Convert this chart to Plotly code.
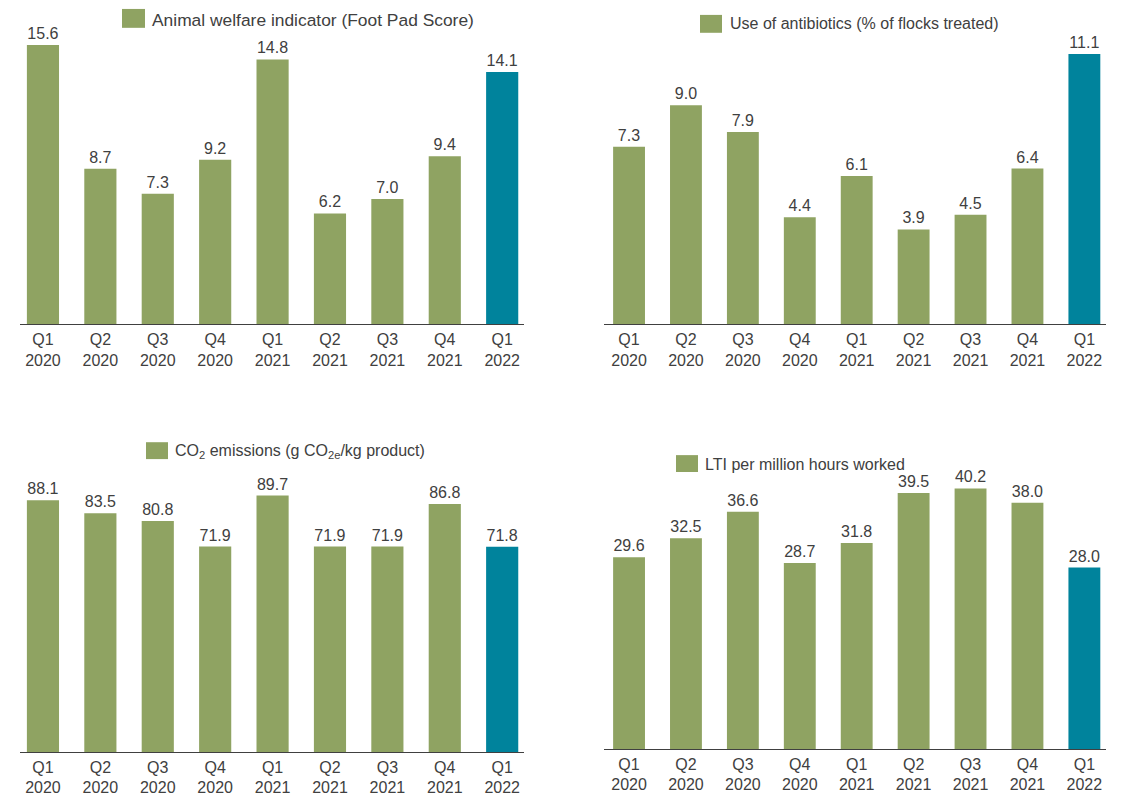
import plotly.graph_objects as go

# Quarterly KPI data
quarters = ["Q1<br>2020", "Q2<br>2020", "Q3<br>2020", "Q4<br>2020",
            "Q1<br>2021", "Q2<br>2021", "Q3<br>2021", "Q4<br>2021", "Q1<br>2022"]

foot_pad_score = [15.6, 8.7, 7.3, 9.2, 14.8, 6.2, 7.0, 9.4, 14.1]
antibiotics_pct = [7.3, 9.0, 7.9, 4.4, 6.1, 3.9, 4.5, 6.4, 11.1]
co2_emissions = [88.1, 83.5, 80.8, 71.9, 89.7, 71.9, 71.9, 86.8, 71.8]
lti_rate = [29.6, 32.5, 36.6, 28.7, 31.8, 39.5, 40.2, 38.0, 28.0]

titles = [
    "Animal welfare indicator (Foot Pad Score)",
    "Use of antibiotics (% of flocks treated)",
    "CO<sub>2</sub> emissions (g CO<sub>2e</sub>/kg product)",
    "LTI per million hours worked",
]

GREEN = "#8fa362"
TEAL = "#00839c"
TEXT = "#404040"
FONT = "Arial, Liberation Sans, sans-serif"

W, H = 1122, 796


def fx(px):
    return px / W


def fy(px):
    return 1 - px / H


# panel geometry (pixels): x-domain, y-domain (bottom, top), x-range, y-max,
# legend swatch box, legend text anchor and legend font size
panels = [
    dict(data=foot_pad_score, xd=(20, 524), yd=(326.5, 40), xr=(-0.40, 8.38), ymax=15.9,
         sw=(122, 9, 145, 28), tx=(150, 20), fs=17.4),
    dict(data=antibiotics_pct, xd=(604, 1106), yd=(326.5, 40), xr=(-0.44, 8.38), ymax=11.69,
         sw=(700, 15, 722, 33), tx=(728, 24), fs=16),
    dict(data=co2_emissions, xd=(20, 524), yd=(757, 480), xr=(-0.40, 8.38), ymax=96.2,
         sw=(146, 445, 168, 462), tx=(173, 454), fs=16),
    dict(data=lti_rate, xd=(604, 1106), yd=(754, 480), xr=(-0.44, 8.38), ymax=41.96,
         sw=(676, 458, 698, 475), tx=(703, 467), fs=16),
]

fig = go.Figure()
shapes = []
annotations = []

for i, p in enumerate(panels, start=1):
    colors = [GREEN] * (len(quarters) - 1) + [TEAL]
    sfx = str(i) if i > 1 else ""
    fig.add_trace(go.Bar(
        x=list(range(len(quarters))),
        y=p["data"],
        marker=dict(color=colors, line=dict(width=0)),
        width=0.56,
        text=[f"{v:.1f}" for v in p["data"]],
        textposition="outside",
        textfont=dict(size=16, color=TEXT, family=FONT),
        cliponaxis=False,
        showlegend=False,
        xaxis=f"x{sfx}",
        yaxis=f"y{sfx}",
    ))
    fig.layout[f"xaxis{sfx}"] = dict(
        domain=[fx(p["xd"][0]), fx(p["xd"][1])],
        range=list(p["xr"]),
        tickmode="array",
        tickvals=list(range(len(quarters))),
        ticktext=quarters,
        showline=True, linecolor=TEXT, linewidth=1.3,
        showgrid=False, zeroline=False, ticks="",
        tickfont=dict(size=16, color=TEXT, family=FONT),
        anchor=f"y{sfx}",
        fixedrange=True,
    )
    fig.layout[f"yaxis{sfx}"] = dict(
        domain=[fy(p["yd"][0]), fy(p["yd"][1])],
        range=[0, p["ymax"]],
        visible=False,
        anchor=f"x{sfx}",
        fixedrange=True,
    )
    # legend key
    x0, y0, x1, y1 = p["sw"]
    shapes.append(dict(type="rect", xref="paper", yref="paper",
                       x0=fx(x0), x1=fx(x1), y0=fy(y1), y1=fy(y0),
                       fillcolor=GREEN, line=dict(width=0)))
    annotations.append(dict(xref="paper", yref="paper",
                            x=fx(p["tx"][0]), y=fy(p["tx"][1]),
                            xanchor="left", yanchor="middle",
                            text=titles[i - 1], showarrow=False,
                            font=dict(size=p["fs"], color=TEXT, family=FONT)))

fig.update_layout(
    width=W, height=H,
    margin=dict(l=0, r=0, t=0, b=0),
    paper_bgcolor="white", plot_bgcolor="white",
    shapes=shapes, annotations=annotations,
    font=dict(family=FONT, color=TEXT),
)

fig.write_html("out.html", config={"displayModeBar": False})
